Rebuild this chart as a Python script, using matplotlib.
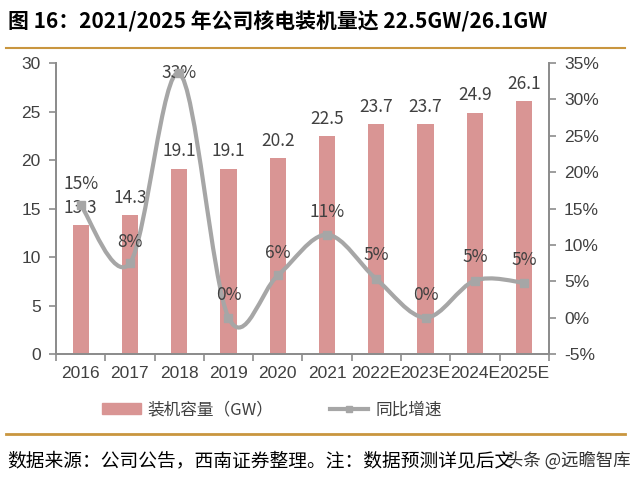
import matplotlib
matplotlib.use("Agg")
import matplotlib.pyplot as plt
import numpy as np
from matplotlib.path import Path
from matplotlib.patches import PathPatch
from matplotlib.lines import Line2D
from matplotlib.patches import Patch

plt.rcParams['font.family'] = ['Liberation Sans', 'Noto Sans CJK SC', 'DejaVu Sans']

categories = ["2016", "2017", "2018", "2019", "2020", "2021", "2022E", "2023E", "2024E", "2025E"]
capacity = [13.3, 14.3, 19.1, 19.1, 20.2, 22.5, 23.7, 23.7, 24.9, 26.1]
growth = [15.5, 7.5, 33.6, 0.0, 5.8, 11.4, 5.3, 0.0, 5.1, 4.8]
growth_labels = ["15%", "8%", "33%", "0%", "6%", "11%", "5%", "0%", "5%", "5%"]
label_offsets = [20, 20, 0, 22, 22, 22, 23, 22, 23, 22]

bar_color = "#D99594"
line_color = "#A6A6A6"
axis_color = "#8C8C8C"
text_color = "#404040"
rule_color = "#C9963F"

fig = plt.figure(figsize=(6.4, 4.8), dpi=100)
ax = fig.add_axes([0.0875, 0.2625, 0.77, 0.606])
ax2 = ax.twinx()
ax.set_zorder(1)
ax2.set_zorder(2)
ax.patch.set_visible(False)

x = np.arange(len(categories))
ax.bar(x, capacity, width=0.33, color=bar_color, zorder=2)
ax.set_xlim(-0.5, len(categories) - 0.5)
ax.set_ylim(0, 30)
ax.set_yticks(range(0, 31, 5))
ax.set_xticks(x)
ax.set_xticklabels(categories)
ax.set_xticks(np.arange(-0.5, len(categories), 1), minor=True)
ax.tick_params(axis='x', which='major', length=0, pad=9, labelsize=12.5, labelcolor=text_color)
ax.tick_params(axis='x', which='minor', length=5, direction='out', color=axis_color, width=1.2)
ax.tick_params(axis='y', length=5, direction='out', color=axis_color, width=1.2, labelsize=12.5, labelcolor=text_color, pad=6)

for xi, v in zip(x, capacity):
    ax.annotate(f"{v:.1f}", (xi, v), xytext=(0, 6), textcoords='offset points',
                ha='center', va='bottom', fontsize=12.5, color=text_color,
                family=['Noto Sans CJK SC', 'DejaVu Sans'])

# smooth line (Catmull-Rom through data points)
ax2.set_ylim(-5, 35)
ax2.set_yticks(range(-5, 36, 5))
ax2.set_yticklabels([f"{v}%" for v in range(-5, 36, 5)])
ax2.tick_params(axis='y', length=5, direction='out', color=axis_color, width=1.2, labelsize=12.5, labelcolor=text_color, pad=6)
xs = list(x)
ys = list(growth)
verts = [(xs[0], ys[0])]
codes = [Path.MOVETO]
n = len(xs)
t = 1 / 6
for i in range(n - 1):
    p0 = (xs[max(i - 1, 0)], ys[max(i - 1, 0)])
    p1 = (xs[i], ys[i])
    p2 = (xs[i + 1], ys[i + 1])
    p3 = (xs[min(i + 2, n - 1)], ys[min(i + 2, n - 1)])
    c1 = (p1[0] + (p2[0] - p0[0]) * t, p1[1] + (p2[1] - p0[1]) * t)
    c2 = (p2[0] - (p3[0] - p1[0]) * t, p2[1] - (p3[1] - p1[1]) * t)
    verts += [c1, c2, p2]
    codes += [Path.CURVE4] * 3
ax2.add_patch(PathPatch(Path(verts, codes), facecolor='none', edgecolor=line_color, lw=3, zorder=3))
ax2.plot(x, growth, linestyle='none', marker='s', markersize=5.5, color=line_color, zorder=4)
for xi, v, lab, off in zip(x, growth, growth_labels, label_offsets):
    ax2.annotate(lab, (xi, v), xytext=(0, off * 0.75), textcoords='offset points',
                 ha='center', va='center', fontsize=12.5, color=text_color,
                 family=['Noto Sans CJK SC', 'DejaVu Sans'])

for a in (ax, ax2):
    a.spines['top'].set_visible(False)
    for s in ('left', 'right', 'bottom'):
        a.spines[s].set_color(axis_color)
        a.spines[s].set_linewidth(1.3)

# legend
handles = [Patch(color=bar_color), Line2D([0], [0], color=line_color, lw=3, marker='s', markersize=5)]
fig.legend(handles, ["装机容量（GW）", "同比增速"], loc='center', bbox_to_anchor=(0.425, 0.146),
           ncol=2, frameon=False, handlelength=2.3, columnspacing=3.4, handletextpad=0.4,
           prop={'family': ['Noto Sans CJK SC', 'DejaVu Sans'], 'size': 12}, labelcolor=text_color)

# title and rules
fig.text(0.012, 0.955, "图 16：2021/2025 年公司核电装机量达 22.5GW/26.1GW", fontsize=15, fontweight='bold',
         ha='left', va='center', family=['Noto Sans CJK SC', 'DejaVu Sans'], color='black')
fig.add_artist(Line2D([0.009, 0.977], [0.9, 0.9], color=rule_color, lw=1.5))
fig.add_artist(Line2D([0.009, 0.977], [0.095, 0.095], color=rule_color, lw=2))
fig.text(0.012, 0.04, "数据来源：公司公告，西南证券整理。注：数据预测详见后文", fontsize=13.5, style='italic',
         ha='left', va='center', family=['Noto Sans CJK SC', 'DejaVu Sans'], color='black')
fig.text(0.79, 0.04, "头条 @远瞻智库", fontsize=12.5, ha='left', va='center',
         family=['Noto Sans CJK SC', 'DejaVu Sans'], color='#333333')

fig.savefig("out.png", dpi=100)
